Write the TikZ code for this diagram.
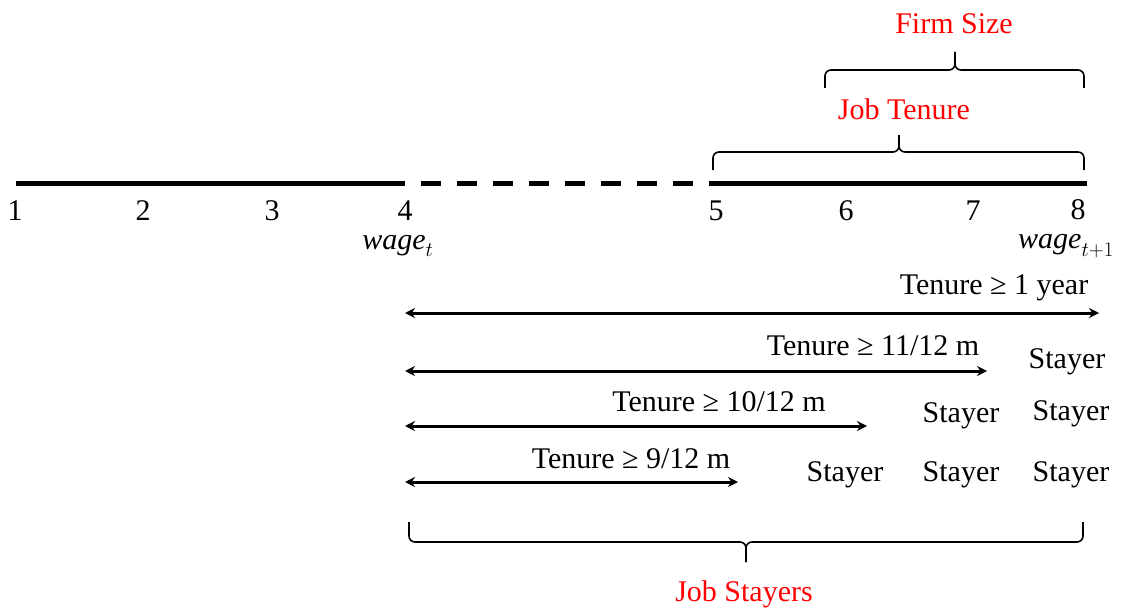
\documentclass[tikz,border=0pt]{standalone}
\usepackage{fontspec}
\setmainfont{Liberation Serif}
\usetikzlibrary{arrows.meta}
\begin{document}
\begin{tikzpicture}[x=1pt,y=-1pt,
  lbl/.style={font=\fontsize{30}{34}\selectfont, inner sep=0pt},
  mlbl/.style={font=\fontsize{30}{34}\selectfont, inner sep=0pt},
  redlbl/.style={lbl, text=red},
  axisline/.style={line width=5pt},
  dashline/.style={line width=5pt, dash pattern=on 20pt off 16pt, dash phase=20pt},
  dbl/.style={line width=3pt, {Stealth[length=10pt,width=10pt]}-{Stealth[length=10pt,width=10pt]}},
  brc/.style={line width=1.6pt, rounded corners=6pt}
]
\useasboundingbox (0,0) rectangle (1125,610);
% main time line
\coordinate (L0) at (16,183);
\coordinate (L4) at (405,183);
\coordinate (L5) at (710,183);
\coordinate (L8) at (1087,183);
\draw[axisline] (L0) -- (L4);
\draw[dashline] (L4) -- (L5);
\draw[axisline] (L5) -- (L8);
% tick labels
\node[lbl] (n1) at (15,211) {1};
\node[lbl] (n2) at (143,211) {2};
\node[lbl] (n3) at (272,211) {3};
\node[lbl] (n4) at (405,211) {4};
\node[lbl] (n5) at (716,211) {5};
\node[lbl] (n6) at (846,211) {6};
\node[lbl] (n7) at (973,211) {7};
\node[lbl] (n8) at (1078,210) {8};
\node[mlbl] (wt) at (398,246) {$\mathit{wage}_t$};
\node[mlbl] (wt1) at (1066,246) {$\mathit{wage}_{t+1}$};
% top braces
\coordinate (fsA) at (825,88);
\coordinate (fsB) at (1084,88);
\coordinate (fsT) at (955,52);
\draw[brc] (fsA) |- (fsT |- 0,70) -- (fsT);
\draw[brc] (fsB) |- (fsT |- 0,70) -- (fsT);
\node[redlbl] (fs) at (954,24) {Firm Size};
\coordinate (jtA) at (713,170);
\coordinate (jtB) at (1084,170);
\coordinate (jtT) at (899,135);
\draw[brc] (jtA) |- (jtT |- 0,152) -- (jtT);
\draw[brc] (jtB) |- (jtT |- 0,152) -- (jtT);
\node[redlbl] (jt) at (904,109) {Job Tenure};
% tenure arrows
\coordinate (a1L) at (405,313); \coordinate (a1R) at (1099,313);
\coordinate (a2L) at (405,371); \coordinate (a2R) at (987,371);
\coordinate (a3L) at (405,426); \coordinate (a3R) at (867,426);
\coordinate (a4L) at (405,482); \coordinate (a4R) at (738,482);
\draw[dbl] (a1L) -- (a1R);
\draw[dbl] (a2L) -- (a2R);
\draw[dbl] (a3L) -- (a3R);
\draw[dbl] (a4L) -- (a4R);
\node[lbl] (t1) at (994,288) {Tenure ≥ 1 year};
\node[lbl] (t2) at (873,346) {Tenure ≥ 11/12 m};
\node[lbl] (t3) at (719,402) {Tenure ≥ 10/12 m};
\node[lbl] (t4) at (631,459) {Tenure ≥ 9/12 m};
% stayers
\node[lbl] (s1) at (1067,362) {Stayer};
\node[lbl] (s2) at (961,416) {Stayer};
\node[lbl] (s3) at (1071,414) {Stayer};
\node[lbl] (s4) at (845,475) {Stayer};
\node[lbl] (s5) at (961,475) {Stayer};
\node[lbl] (s6) at (1071,475) {Stayer};
% bottom brace
\coordinate (jsA) at (409,522);
\coordinate (jsB) at (1083,522);
\coordinate (jsT) at (746,562);
\draw[brc] (jsA) |- (jsT |- 0,542) -- (jsT);
\draw[brc] (jsB) |- (jsT |- 0,542) -- (jsT);
\node[redlbl] (js) at (744,594) {Job Stayers};
\end{tikzpicture}
\end{document}
